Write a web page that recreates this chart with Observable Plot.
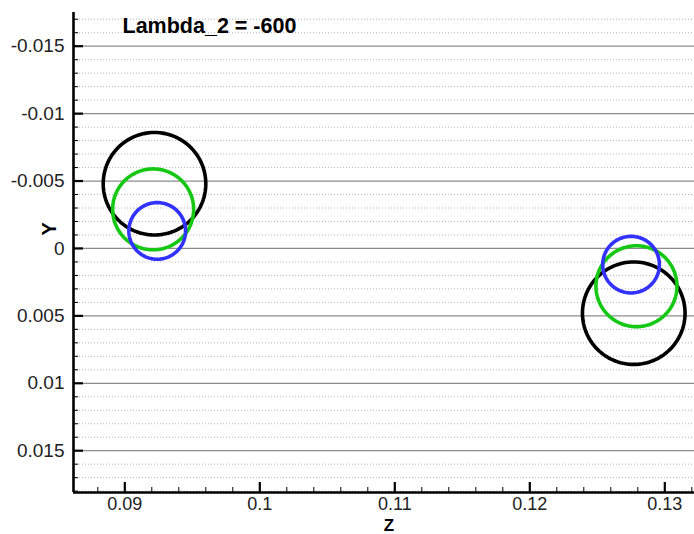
<!DOCTYPE html>
<html>
<head>
<meta charset="utf-8">
<script src="https://cdn.jsdelivr.net/npm/d3@7"></script>
<script src="https://cdn.jsdelivr.net/npm/@observablehq/plot@0.6"></script>
<style>
  html, body { margin: 0; padding: 0; background: #fff; }
  svg { display: block; }
</style>
</head>
<body>
<div id="chart"></div>
<script>
// ---- data ----
const title = "Lambda_2 = -600";
const xLabel = "Z";
const yLabel = "Y";

// circle outlines: centre (Z, Y) and radius
const circleIds    = ["L1", "L2", "L3", "R1", "R2", "R3"];
const circleSeries = ["s1", "s2", "s3", "s1", "s2", "s3"];
const circleZ      = [0.0922, 0.0921, 0.0924, 0.1277, 0.1279, 0.1275];
const circleY      = [-0.0048, -0.0029, -0.0013, 0.0048, 0.0028, 0.0012];
const circleR      = [0.0038, 0.0030, 0.0021, 0.0038, 0.0030, 0.0021];

const seriesNames = ["s1", "s2", "s3"];

const xDomain = [0.0862, 0.1322];
const yDomain = [-0.0175, 0.0181];

const xMajorTicks = [0.09, 0.1, 0.11, 0.12, 0.13];
const xTickLabels = ["0.09", "0.1", "0.11", "0.12", "0.13"];
const xMinorTicks = [0.088, 0.092, 0.094, 0.096, 0.098, 0.102, 0.104, 0.106, 0.108,
                     0.112, 0.114, 0.116, 0.118, 0.122, 0.124, 0.126, 0.128, 0.132];

const yMajorTicks = [-0.015, -0.01, -0.005, 0, 0.005, 0.01, 0.015];
const yTickLabels = ["-0.015", "-0.01", "-0.005", "0", "0.005", "0.01", "0.015"];
const yMinorTicks = d3.range(-17, 19).map(i => i / 1000)
  .filter(v => !yMajorTicks.some(m => Math.abs(m - v) < 1e-9));

// ---- build outline points from centre + radius (geometry of a circle) ----
const outline = [];
circleIds.forEach((id, k) => {
  for (let a = 0; a <= 360; a += 3) {
    const t = a * Math.PI / 180;
    outline.push({
      id,
      series: circleSeries[k],
      z: circleZ[k] + circleR[k] * Math.cos(t),
      y: circleY[k] + circleR[k] * Math.sin(t)
    });
  }
});

const font = "'Liberation Sans', Arial, Helvetica, sans-serif";

const chart = Plot.plot({
  width: 694,
  height: 534,
  marginLeft: 73,
  marginRight: 0,
  marginTop: 12,
  marginBottom: 42,
  style: { fontFamily: font, background: "#fff", color: "#222" },
  x: { domain: xDomain },
  y: { domain: yDomain, reverse: true },
  color: { domain: seriesNames, range: ["#000000", "#14c814", "#3232ff"] },
  marks: [
    // minor dotted grid
    Plot.ruleY(yMinorTicks, { stroke: "#b4b4b4", strokeWidth: 1, strokeDasharray: "1,2" }),
    // major grid
    Plot.ruleY(yMajorTicks, { stroke: "#8c8c8c", strokeWidth: 1.3 }),
    // circles
    Plot.line(outline, {
      x: "z", y: "y", z: "id", stroke: "series",
      curve: "linear-closed", strokeWidth: 3.6
    }),
    // inward ticks
    Plot.axisY(yMajorTicks, { anchor: "left", tickSize: -10, fill: "none", stroke: "#000", strokeWidth: 2.2, label: null }),
    Plot.axisY(yMinorTicks, { anchor: "left", tickSize: -5, fill: "none", stroke: "#000", strokeWidth: 1, label: null }),
    Plot.axisX(xMajorTicks, { anchor: "bottom", tickSize: -10, fill: "none", stroke: "#000", strokeWidth: 2.2, label: null }),
    Plot.axisX(xMinorTicks, { anchor: "bottom", tickSize: -5, fill: "none", stroke: "#000", strokeWidth: 1, label: null }),
    // tick labels
    Plot.axisY(yMajorTicks, {
      anchor: "left", tickSize: 0, tickPadding: 9, label: null,
      tickFormat: d => yTickLabels[yMajorTicks.indexOf(d)],
      fontSize: 19, fill: "#222"
    }),
    Plot.axisX(xMajorTicks, {
      anchor: "bottom", tickSize: 0, tickPadding: 5, label: null,
      tickFormat: d => xTickLabels[xMajorTicks.indexOf(d)],
      fontSize: 18, fill: "#222"
    }),
    // axis lines
    Plot.ruleX([xDomain[0]], { stroke: "#000", strokeWidth: 2.6 }),
    Plot.ruleY([yDomain[1]], { stroke: "#000", strokeWidth: 2.6 }),
    // title inside the frame
    Plot.text([title], {
      frameAnchor: "top-left", dx: 49, dy: 14, textAnchor: "start", lineAnchor: "middle",
      fontSize: 21.5, fontWeight: "bold", fill: "#000"
    }),
    // axis titles
    Plot.text([yLabel], {
      frameAnchor: "left", rotate: -90, dx: -24, dy: -17, lineAnchor: "middle",
      fontSize: 20, fontWeight: "bold", fill: "#000"
    }),
    Plot.text([xLabel], {
      frameAnchor: "bottom", dx: 5, dy: 33, lineAnchor: "middle",
      fontSize: 17, fontWeight: "bold", fill: "#000"
    })
  ]
});

document.getElementById("chart").appendChild(chart);
</script>
</body>
</html>
